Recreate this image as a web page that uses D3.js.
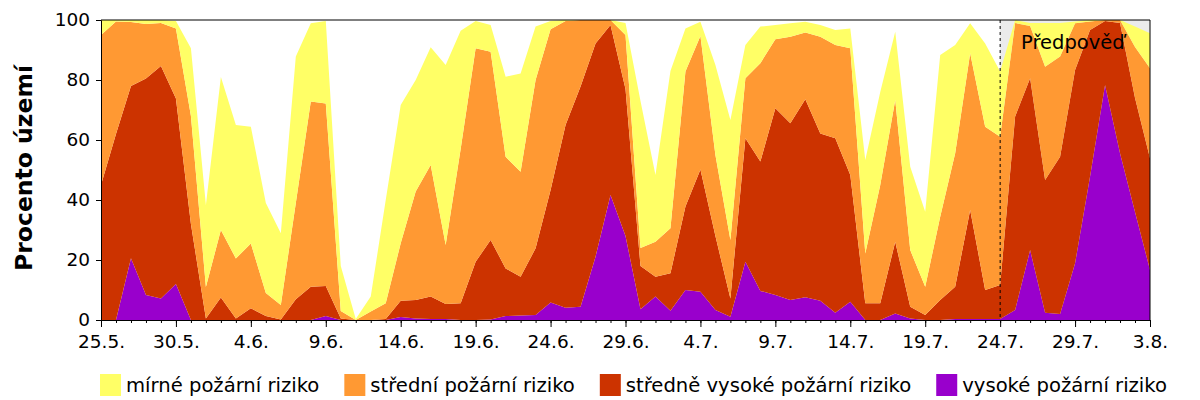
<!DOCTYPE html>
<html><head><meta charset="utf-8">
<script src="https://cdn.jsdelivr.net/npm/d3@7"></script>
<style>body{margin:0;background:#fff} svg{display:block} text{font-family:"DejaVu Sans",sans-serif;fill:#000}</style>
</head><body><svg id="c" width="1200" height="400"></svg>
<script>
const dates = ["25.5.","26.5.","27.5.","28.5.","29.5.","30.5.","31.5.",
"1.6.","2.6.","3.6.","4.6.","5.6.","6.6.","7.6.","8.6.","9.6.","10.6.","11.6.","12.6.","13.6.","14.6.","15.6.","16.6.","17.6.","18.6.","19.6.","20.6.","21.6.","22.6.","23.6.","24.6.","25.6.","26.6.","27.6.","28.6.","29.6.","30.6.",
"1.7.","2.7.","3.7.","4.7.","5.7.","6.7.","7.7.","8.7.","9.7.","10.7.","11.7.","12.7.","13.7.","14.7.","15.7.","16.7.","17.7.","18.7.","19.7.","20.7.","21.7.","22.7.","23.7.","24.7.","25.7.","26.7.","27.7.","28.7.","29.7.","30.7.","31.7.",
"1.8.","2.8.","3.8."];
const tickLabels = ["25.5.","30.5.","4.6.","9.6.","14.6.","19.6.","24.6.","29.6.","4.7.","9.7.","14.7.","19.7.","24.7.","29.7.","3.8."];
const yTicks = [0,20,40,60,80,100];
const forecastStart = "24.7.";
const forecastLabel = "Předpověď";
const yTitle = "Procento území";
const seriesNames = ["mírné požární riziko","střední požární riziko","středně vysoké požární riziko","vysoké požární riziko"];
const seriesColors = ["#FFFF66","#FF9933","#CC3300","#9900CC"];

const vysoke = [0,0,20.6,8.3,7.2,12,0,0,0,0, 0,0,0,0,0,1.3,0,0,0,0, 1,0.5,0.3,0.3,0,0,0.2,1.3,1.5,1.7,
 5.8,4.1,4.4,21.1,41.7,28,3.6,7.8,3.1,10, 9.4,3.3,1.1,19.4,9.7,8.3,6.7,7.6,6.4,2.4,
 6.1,0,0,2.2,0.5,0,0,0.3,0.3,0.3, 0.3,3.3,23.3,2.4,2,18.9,47.8,78.3,55.6,36,16.7];
const stredneVysoke = [45,62,57.4,72.2,77.5,61.8,32,0.5,7.5,0.5, 3.9,1.3,0.2,6.9,11.1,10,0.5,0,0,0.3,
 5.4,6.2,7.5,5,5.6,19.4,26.5,15.9,12.9,22.2, 37.5,60.9,73.4,71.1,56.6,49,14.4,6.6,12.5,27.8,
 40.8,24.7,6.1,41.2,43.1,62.3,58.9,66,55.8,58.2, 42.2,5.6,5.6,23.9,3.9,1.7,6.7,10.8,36.4,9.7,
 11.4,64.5,57.3,44.3,52.4,64.4,48.9,21.4,43.4,38,37.2];
const stredni = [50,37.5,21.3,18.2,14.3,23.4,36,10.5,22.5,20, 21.6,7.7,4.8,32.1,61.7,60.9,2.5,0,2.8,5.3,
 19.2,36.1,43.9,19.7,51.4,71.2,62.7,37.2,35,56.1, 53.6,34.7,22.2,7.8,1.7,18,6,11.7,15,45,
 44.5,27,19.5,20,32.8,23,28.8,22.2,32.2,31.1, 42.3,16.6,39.4,47.2,18.9,9.4,27.7,44.5,52.2,54.4,
 49.4,31.2,17.4,37.7,33.4,15.6,2.8,0.3,1,17,30];
const mirne = [5,0.5,0.7,1.3,1,2.5,22.6,27.3,51,44.5, 38.9,30,23.9,48.8,26.1,27.5,15,0.3,5,34.4,
 46.1,37.2,39.2,60,39.4,9.1,8.9,26.7,32.8,17.8, 2.8,0.3,0,0,0,4,49,22.2,52.4,14.4,
 4.7,30,40,11.1,12.2,4.7,4.5,3.6,3.9,5, 6.6,31.1,31,22.8,27.8,25,53.9,36.1,10,27.8,
 21.7,1,1,14.6,11.2,0.6,0.5,0,0,6.8,11.7];

const table = dates.map((d,i)=>({date:d, v:vysoke[i], sv:stredneVysoke[i], s:stredni[i], m:mirne[i]}));
const keys = ["v","sv","s","m"];
const keyColor = {m:seriesColors[0], s:seriesColors[1], sv:seriesColors[2], v:seriesColors[3]};

const svg = d3.select("#c");
const L=101, R=1150, T=20, B=320;
const x = d3.scalePoint().domain(dates).range([L,R]);
const y = d3.scaleLinear().domain([0,100]).range([B,T]);

// forecast background
svg.append("rect").attr("x",x(forecastStart)).attr("y",T)
  .attr("width",R-x(forecastStart)).attr("height",B-T).attr("fill","#ebebeb");

const stack = d3.stack().keys(keys)(table);
const area = d3.area().x(d=>x(d.data.date)).y0(d=>y(d[0])).y1(d=>y(Math.min(100,d[1])));
svg.append("g").selectAll("path").data(stack).join("path")
  .attr("d",area).attr("fill",d=>keyColor[d.key]);

// frame
svg.append("path").attr("d",`M${L},${T}H${R}V${B}`).attr("fill","none").attr("stroke","#000").attr("stroke-width",1);

// forecast line
svg.append("line").attr("x1",x(forecastStart)).attr("x2",x(forecastStart)).attr("y1",T).attr("y2",B)
  .attr("stroke","#000").attr("stroke-dasharray","3,3").attr("stroke-width",1);
svg.append("text").attr("x",1021).attr("y",49).attr("font-size",19.5).text(forecastLabel);

// axes
const gx = svg.append("g").attr("transform",`translate(0,${B})`);
gx.call(d3.axisBottom(x).tickValues(dates).tickSize(3).tickFormat(""));
const gx2 = svg.append("g").attr("transform",`translate(0,${B})`);
gx2.call(d3.axisBottom(x).tickValues(tickLabels).tickSize(7).tickPadding(8));
[gx,gx2].forEach(g=>{g.select(".domain").attr("stroke","#000"); g.selectAll("line").attr("stroke","#000");});
gx2.selectAll("text").attr("font-size",18.5).attr("font-family","DejaVu Sans").attr("fill","#000");

const gy = svg.append("g").attr("transform",`translate(${L},0)`);
gy.call(d3.axisLeft(y).tickValues(yTicks).tickSize(5).tickPadding(6));
gy.select(".domain").attr("stroke","#000");
gy.selectAll("line").attr("stroke","#000");
gy.selectAll("text").attr("font-size",18.5).attr("font-family","DejaVu Sans").attr("fill","#000");

svg.append("text").attr("transform","translate(32,168) rotate(-90)").attr("text-anchor","middle")
  .attr("font-size",23.5).attr("font-weight","bold").text(yTitle);

// legend
const lg = svg.append("g");
let lx = 100;
seriesNames.forEach((n,i)=>{
  lg.append("rect").attr("x",lx).attr("y",374).attr("width",21).attr("height",22).attr("fill",seriesColors[i]);
  const t = lg.append("text").attr("x",lx+26).attr("y",392).attr("font-size",19.6).text(n);
  lx += 26 + t.node().getComputedTextLength() + 25;
});
</script></body></html>
